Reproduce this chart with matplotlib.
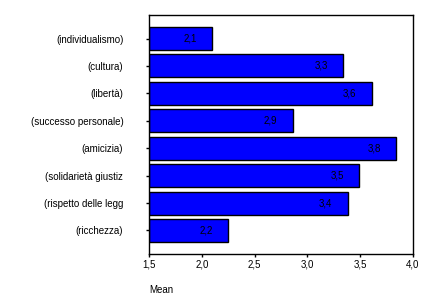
import numpy as np
import matplotlib
matplotlib.use('Agg')
import matplotlib.pyplot as plt

plt.rcParams['font.family'] = ['Liberation Sans', 'DejaVu Sans']

categories = ['(individualismo)', '(cultura)', '(libertà)', '(successo personale)',
              '(amicizia)', '(solidarietà giustiz', '(rispetto delle legg', '(ricchezza)']
means = [2.10, 3.34, 3.61, 2.86, 3.84, 3.49, 3.38, 2.25]
xticks = [1.5, 2.0, 2.5, 3.0, 3.5, 4.0]

W, H = 436, 304
fig = plt.figure(figsize=(W / 100, H / 100), dpi=100)
ax = fig.add_axes([149 / W, 1 - 254 / H, (413 - 149) / W, (254 - 15) / H])

y = np.arange(len(categories))
bars = ax.barh(y, [m - 1.5 for m in means], left=1.5, height=0.84,
               color='#0000FF', edgecolor='black', linewidth=1)

# value labels sit inside the bar, near its end
for yi, m in zip(y, means):
    ax.annotate(f'{m:.1f}'.replace('.', ','), xy=(m, yi), xytext=(-16, 0),
                textcoords='offset points', ha='center', va='center', fontsize=7)

ax.set_xlim(1.5, 4.0)
ax.set_ylim(len(categories) - 1 + 0.86, -0.86)
ax.set_yticks(y)
ax.set_yticklabels(categories, fontsize=7)
ax.set_xticks(xticks)
ax.set_xticklabels([f'{t:.1f}'.replace('.', ',') for t in xticks], fontsize=7)
ax.tick_params(axis='y', length=2.5, width=1, pad=16)
ax.tick_params(axis='x', length=2.5, width=1, pad=1.5)
for s in ax.spines.values():
    s.set_linewidth(1)

fig.text(149 / W, 1 - 290 / H, 'Mean', fontsize=7, va='center', ha='left')

fig.savefig('out.png', dpi=100)
